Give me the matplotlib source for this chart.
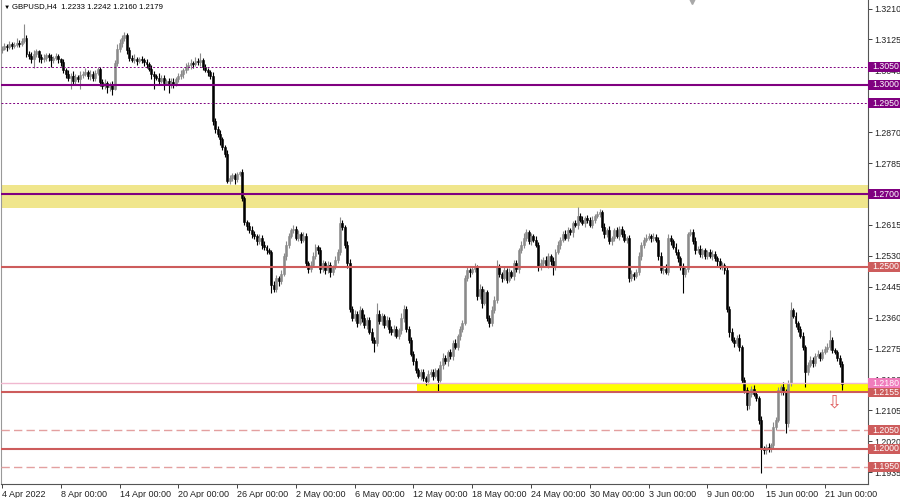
import numpy as np
import matplotlib.pyplot as plt
import matplotlib.transforms as mtransforms
from matplotlib.patches import Rectangle

plt.rcParams['font.family'] = ['Liberation Sans', 'DejaVu Sans']

# ---- data: GBPUSD H4, prices in pips above 1.0000 ----
title_text = "GBPUSD,H4  1.2233 1.2242 1.2160 1.2179"
first_open = 3095

# one row per 4 trading days (24 H4 bars)
closes = [
    3100, 3108, 3104, 3112, 3106, 3110, 3116, 3112, 3120, 3130, 3085, 3080,
    3072, 3085, 3092, 3078, 3070, 3075, 3082, 3076, 3068, 3074, 3080, 3070,
    3062, 3040, 3030, 3018, 3025, 3010, 3022, 3015, 3028, 3030, 3035, 3025,
    3030, 3020, 3032, 3045, 3008, 2998, 3006, 2994, 3000, 2990, 3060, 3098,
    3115, 3128, 3138, 3095, 3075, 3068, 3072, 3065, 3070, 3068, 3062, 3058,
    3045, 3030, 3025, 3020, 3012, 3018, 3005, 3010, 3000, 3008, 3002, 3015,
    3025, 3030, 3040, 3048, 3055, 3060, 3058, 3065, 3062, 3068, 3050, 3042,
    3035, 3025, 2900, 2880, 2865, 2850, 2830, 2810, 2735, 2745, 2752, 2740,
    2755, 2760, 2690, 2622, 2612, 2600, 2590, 2585, 2570, 2580, 2560, 2555,
    2545, 2540, 2450, 2440, 2470, 2460, 2480, 2530, 2560, 2585, 2600, 2605,
    2580, 2590, 2575, 2585, 2510, 2495, 2505, 2530, 2555, 2545, 2495, 2510,
    2490, 2505, 2485, 2500, 2520, 2540, 2620, 2610, 2560, 2510, 2385, 2360,
    2370, 2345, 2380, 2360, 2340, 2355, 2320, 2300, 2290, 2370, 2350, 2365,
    2340, 2355, 2330, 2320, 2330, 2310, 2325, 2360, 2385, 2330, 2300, 2260,
    2240, 2215, 2200, 2210, 2195, 2185, 2205, 2210, 2200, 2215, 2190, 2230,
    2250, 2240, 2265, 2255, 2290, 2280, 2310, 2330, 2345, 2470, 2490, 2485,
    2495, 2500, 2420, 2440, 2400, 2430, 2360, 2345, 2380, 2410, 2500, 2480,
    2470, 2490, 2465, 2485, 2475, 2510, 2495, 2545, 2560, 2580, 2595, 2570,
    2585, 2575, 2560, 2500, 2510, 2520, 2505, 2530, 2515, 2500, 2540, 2560,
    2575, 2590, 2580, 2600, 2595, 2620, 2615, 2640, 2630, 2620, 2635, 2628,
    2615, 2630, 2640, 2645, 2650, 2610, 2590, 2600, 2570, 2580, 2600, 2585,
    2605, 2590, 2575, 2580, 2470, 2480, 2475, 2485, 2530, 2560, 2575, 2580,
    2585, 2578, 2582, 2575, 2530, 2490, 2495, 2485, 2580, 2570, 2555, 2540,
    2525, 2500, 2480, 2495, 2590, 2595, 2570, 2545, 2550, 2535, 2545, 2530,
    2540, 2530, 2535, 2525, 2515, 2500, 2505, 2490, 2385, 2320, 2300, 2290,
    2305, 2280, 2190, 2160, 2120, 2150, 2165, 2150, 2140, 2080, 2000, 1995,
    2005, 1998, 2010, 2060, 2080, 2160, 2170, 2155, 2070, 2180, 2380, 2365,
    2345, 2330, 2310, 2280, 2210, 2230, 2245, 2235, 2255, 2260, 2250, 2265,
    2275, 2280, 2300, 2270, 2265, 2250, 2233, 2179,
]

# wick length above the body / below the body, pips
up_wick = [
    6, 8, 5, 10, 6, 8, 12, 7, 10, 38, 6, 8, 10, 12, 6, 5, 8, 10, 6, 7, 9, 5, 8, 6,
    5, 8, 6, 10, 7, 12, 8, 6, 10, 8, 12, 6, 10, 8, 9, 5, 5, 8, 10, 6, 8, 10, 8, 15,
    10, 8, 8, 5, 10, 8, 12, 6, 8, 10, 6, 8, 5, 10, 8, 6, 12, 8, 10, 6, 8, 12, 10, 8,
    8, 10, 6, 12, 8, 10, 6, 12, 8, 20, 6, 8, 5, 6, 10, 8, 6, 10, 8, 6, 12, 8, 6, 6,
    6, 3, 10, 5, 8, 10, 12, 8, 6, 10, 8, 12, 6, 8, 5, 10, 8, 6, 12, 8, 10, 8, 6, 10,
    8, 10, 6, 12, 8, 6, 10, 12, 8, 6, 10, 8, 6, 10, 8, 6, 10, 8, 17, 8, 6, 10, 12, 8,
    10, 8, 12, 6, 10, 8, 6, 12, 8, 30, 10, 8, 6, 10, 8, 6, 10, 8, 6, 12, 10, 8, 6, 8,
    8, 10, 6, 8, 10, 6, 12, 8, 10, 6, 8, 10, 12, 8, 6, 10, 8, 12, 6, 8, 10, 8, 12, 6,
    8, 10, 6, 12, 8, 10, 6, 8, 12, 10, 19, 8, 6, 10, 8, 12, 6, 10, 8, 6, 10, 12, 8, 6,
    8, 6, 10, 8, 12, 6, 10, 8, 6, 12, 8, 10, 6, 8, 12, 10, 8, 6, 10, 25, 8, 10, 6, 8,
    8, 10, 6, 8, 9, 6, 10, 8, 12, 6, 8, 10, 6, 8, 10, 6, 8, 10, 6, 8, 10, 8, 6, 10,
    8, 6, 10, 8, 6, 10, 8, 12, 10, 8, 6, 10, 8, 6, 10, 8, 6, 10, 8, 12, 6, 10, 8, 6,
    6, 8, 10, 8, 6, 10, 8, 6, 10, 8, 12, 6, 8, 10, 6, 8, 10, 8, 6, 10, 8, 6, 10, 8,
    8, 10, 6, 12, 8, 10, 6, 12, 8, 10, 23, 8, 10, 6, 8, 10, 6, 8, 10, 6, 8, 10, 6, 8,
    8, 10, 27, 6, 8, 6, 8, 9,
]
down_wick = [
    8, 5, 10, 6, 8, 5, 7, 9, 6, 5, 8, 10, 12, 25, 8, 14, 9, 6, 8, 10, 18, 7, 5, 9,
    10, 8, 12, 6, 30, 8, 10, 6, 25, 10, 6, 8, 12, 10, 8, 6, 12, 10, 8, 15, 10, 17, 5, 8,
    8, 10, 6, 10, 8, 6, 8, 10, 6, 8, 10, 12, 8, 15, 35, 6, 10, 8, 20, 6, 22, 8, 10, 6,
    6, 8, 10, 6, 8, 10, 12, 6, 8, 10, 8, 6, 10, 8, 10, 12, 8, 15, 10, 8, 6, 8, 10, 12,
    8, 6, 10, 8, 10, 6, 12, 8, 10, 6, 12, 8, 10, 6, 22, 8, 10, 12, 8, 6, 10, 8, 6, 8,
    6, 8, 10, 6, 8, 12, 10, 6, 8, 10, 12, 8, 10, 6, 12, 8, 6, 10, 8, 10, 8, 12, 10, 8,
    8, 10, 6, 12, 8, 10, 6, 10, 24, 8, 6, 10, 8, 6, 12, 8, 10, 6, 8, 10, 12, 8, 10, 6,
    10, 8, 6, 12, 8, 10, 6, 8, 10, 6, 34, 8, 10, 6, 12, 8, 10, 6, 8, 10, 8, 6, 10, 12,
    6, 8, 10, 8, 12, 6, 8, 10, 8, 6, 10, 8, 12, 6, 10, 8, 6, 10, 8, 12, 6, 8, 10, 8,
    10, 8, 6, 12, 8, 10, 6, 8, 10, 22, 8, 6, 10, 8, 6, 10, 8, 12, 6, 10, 8, 6, 10, 8,
    6, 8, 10, 6, 8, 12, 10, 8, 6, 10, 8, 6, 10, 8, 6, 10, 11, 8, 10, 6, 8, 10, 8, 6,
    6, 10, 8, 6, 12, 8, 10, 6, 8, 10, 6, 8, 12, 10, 52, 8, 10, 6, 8, 10, 6, 8, 10, 8,
    8, 6, 10, 8, 12, 6, 8, 10, 8, 12, 6, 10, 8, 12, 10, 8, 14, 10, 8, 6, 10, 12, 67, 10,
    10, 8, 6, 8, 10, 6, 12, 8, 28, 10, 8, 6, 10, 8, 6, 10, 40, 8, 6, 10, 8, 6, 8, 6,
    6, 8, 10, 8, 6, 10, 8, 19,
]

date_labels = ["4 Apr 2022", "8 Apr 00:00", "14 Apr 00:00", "20 Apr 00:00",
               "26 Apr 00:00", "2 May 00:00", "6 May 00:00", "12 May 00:00",
               "18 May 00:00", "24 May 00:00", "30 May 00:00", "3 Jun 00:00",
               "9 Jun 00:00", "15 Jun 00:00", "21 Jun 00:00"]
bars_per_label = 24

price_ticks = [1.3210, 1.3125, 1.3040, 1.2955, 1.2870, 1.2785, 1.2700, 1.2615,
               1.2530, 1.2445, 1.2360, 1.2275, 1.2190, 1.2105, 1.2020, 1.1935]

purple_solid = [1.3000, 1.2700]
purple_dotted = [1.3050, 1.2950]
red_solid = [1.2500, 1.2155, 1.2000]
red_dashed = [1.2050, 1.1950]
pink_level = 1.2180
wide_zone = (1.2662, 1.2725)
narrow_zone = (1.2155, 1.2180)
narrow_zone_start = 170

# ---- build candles ----
c = 1 + np.array(closes) / 10000
o = 1 + np.array([first_open] + closes[:-1]) / 10000
hi = np.maximum(o, c) + np.array(up_wick) / 10000
lo = np.minimum(o, c) - np.array(down_wick) / 10000
x = np.arange(len(c))

PURPLE = '#800080'
RED = '#cd5c5c'
LIGHTRED = '#e3a0a0'
PINK = '#f07cbc'

fig = plt.figure(figsize=(9, 4.98), dpi=100)
ax = fig.add_axes([1 / 900, 14 / 498, 867 / 900, 484 / 498])
ax.set_xlim(-0.41, 353.6)
ax.set_ylim(1.19028, 1.32335)

# zones
ax.axhspan(*wide_zone, color='#f0e68c', lw=0, zorder=1)
ax.fill_between([narrow_zone_start - 0.5, 360], narrow_zone[0], narrow_zone[1],
                color='#ffff00', lw=0, zorder=1)

# candles
bull = c >= o
cols = np.where(bull, '#8a8a8a', '#000000')
ax.vlines(x, lo, hi, colors=cols, linewidth=0.8, zorder=3)
ax.bar(x, np.abs(c - o), bottom=np.minimum(o, c), width=0.8, color=cols,
       edgecolor=cols, linewidth=0.4, zorder=4)

# levels
for lv in purple_solid:
    ax.axhline(lv, color=PURPLE, lw=1.5, zorder=6)
for lv in purple_dotted:
    ax.axhline(lv, color=PURPLE, lw=0.7, ls=(0, (2, 2)), zorder=6)
for lv in red_solid:
    ax.axhline(lv, color=RED, lw=1.5, zorder=6)
for lv in red_dashed:
    ax.axhline(lv, color=LIGHTRED, lw=1.0, ls=(0, (6, 3)), zorder=6)
ax.axhline(pink_level, color='#f0b8d0', lw=1.0, zorder=5)

# price boxes on the right
trans = mtransforms.blended_transform_factory(ax.transAxes, ax.transData)
box_w = 32 / 867
box_h = 10 * (1.32335 - 1.19028) / 484
boxes = [(lv, PURPLE) for lv in purple_solid + purple_dotted] + \
        [(lv, RED) for lv in red_solid + red_dashed] + [(pink_level, PINK)]
for lv, col in boxes:
    ax.add_patch(Rectangle((1.0, lv - box_h / 2), box_w, box_h, transform=trans,
                           fc=col, ec='none', clip_on=False, zorder=9))
    ax.text(1.0 + 4 / 867, lv, f"{lv:.4f}", transform=trans, fontsize=6.3,
            color='white', va='center', ha='left', clip_on=False, zorder=10)

# down arrow
ax.text(340, 1.2127, '\u21e9', color='#e06060', fontsize=13, ha='center',
        va='center', zorder=7, family='DejaVu Sans')

# title and shift marker
ax.text(0.003, 0.99, '\u25bc', transform=ax.transAxes, fontsize=4.5, va='top')
ax.text(0.013, 0.993, title_text, transform=ax.transAxes, fontsize=5.6, va='top')
ax.plot(0.797, 0.997, marker='v', color='#a8a8a8', markersize=5,
        transform=ax.transAxes, clip_on=False)

# axes
ax.yaxis.tick_right()
ax.set_yticks(price_ticks)
ax.set_yticklabels([f"{p:.4f}" for p in price_ticks])
ax.set_xticks(np.arange(len(date_labels)) * bars_per_label)
ax.set_xticklabels(date_labels, ha='left')
ax.tick_params(axis='both', length=3, width=0.6, pad=1.5, colors='#222222')
ax.tick_params(axis='y', labelsize=6.3)
ax.tick_params(axis='x', labelsize=6.5)
ax.spines['top'].set_visible(False)
ax.spines['left'].set_color('#999999')
for s in ('right', 'bottom'):
    ax.spines[s].set_color('#555555')
    ax.spines[s].set_linewidth(0.8)

fig.savefig('out.png', dpi=100)
